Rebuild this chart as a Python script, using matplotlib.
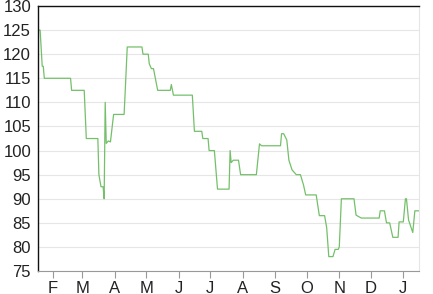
import pandas as pd
import matplotlib
matplotlib.use("Agg")
import matplotlib.pyplot as plt
import matplotlib.dates as mdates

# days since the start date, and the value on that day
start = pd.Timestamp("2019-01-18")
days = [0, 2, 4, 5, 6, 31, 32, 44, 46, 57, 58, 60, 62, 63, 64, 65, 67, 69, 72,
        82, 83, 85, 99, 100, 105, 106, 108, 110, 114, 126, 127, 129, 147, 149,
        156, 157, 162, 163, 168, 171, 182, 183, 184, 186, 191, 193, 208, 211,
        213, 231, 232, 234, 237, 239, 242, 246, 250, 253, 255, 265, 268, 273,
        275, 277, 281, 283, 286, 287, 289, 301, 303, 308, 325, 326, 330, 332,
        335, 338, 343, 344, 348, 350, 351, 353, 357, 359, 363]
values = [125, 125, 117.5, 117.5, 115, 115, 112.5, 112.5, 102.5, 102.5, 95,
          92.5, 92.5, 90, 110, 101.5, 102, 101.8, 107.5,
          107.5, 112, 121.5, 121.5, 120, 120, 118, 117, 117, 112.5, 112.5,
          113.7, 111.5, 111.5, 104,
          104, 102.5, 102.5, 100, 100, 92, 92, 100, 97.5, 98, 98, 95, 95, 101.4,
          101, 101, 103.5, 103.5, 102.2, 98, 96, 95, 95, 92.8, 90.8, 90.8, 86.5,
          86.5, 84, 78, 78, 79.5, 79.5, 80, 90, 90, 86.6, 86, 86, 87.5, 87.5, 85,
          85, 82, 82, 85.2, 85.2, 90, 90, 85.6, 83, 87.5, 87.5]

dates = [start + pd.Timedelta(days=d) for d in days]

plt.rcParams['font.family'] = ['Liberation Sans', 'DejaVu Sans']

fig = plt.figure(figsize=(4.33, 2.94), dpi=100)
ax = fig.add_axes([0.0878, 0.078, 0.88, 0.9016])

ax.plot(dates, values, color='#74c06a', linewidth=0.9)

ax.set_xlim(dates[0], dates[-1])
ax.set_ylim(75, 130)
ax.set_yticks(range(75, 131, 5))
ax.yaxis.grid(True, color='#e6e6e6', linewidth=0.8)
ax.set_axisbelow(True)

ax.xaxis.set_major_locator(mdates.MonthLocator())
ax.xaxis.set_major_formatter(mdates.DateFormatter('%b'))
fig.canvas.draw()
ax.set_xticklabels([t.get_text()[0] for t in ax.get_xticklabels()])

ax.tick_params(axis='y', length=0, pad=5, labelsize=12, labelcolor='#222222')
ax.tick_params(axis='x', length=5, color='#999999', pad=2, labelsize=12, labelcolor='#222222')

for side in ['left', 'top']:
    ax.spines[side].set_color('#111111')
    ax.spines[side].set_linewidth(1.0)
ax.spines['bottom'].set_color('#999999')
ax.spines['right'].set_color('#e6e6e6')

fig.savefig('out.png', dpi=100)
